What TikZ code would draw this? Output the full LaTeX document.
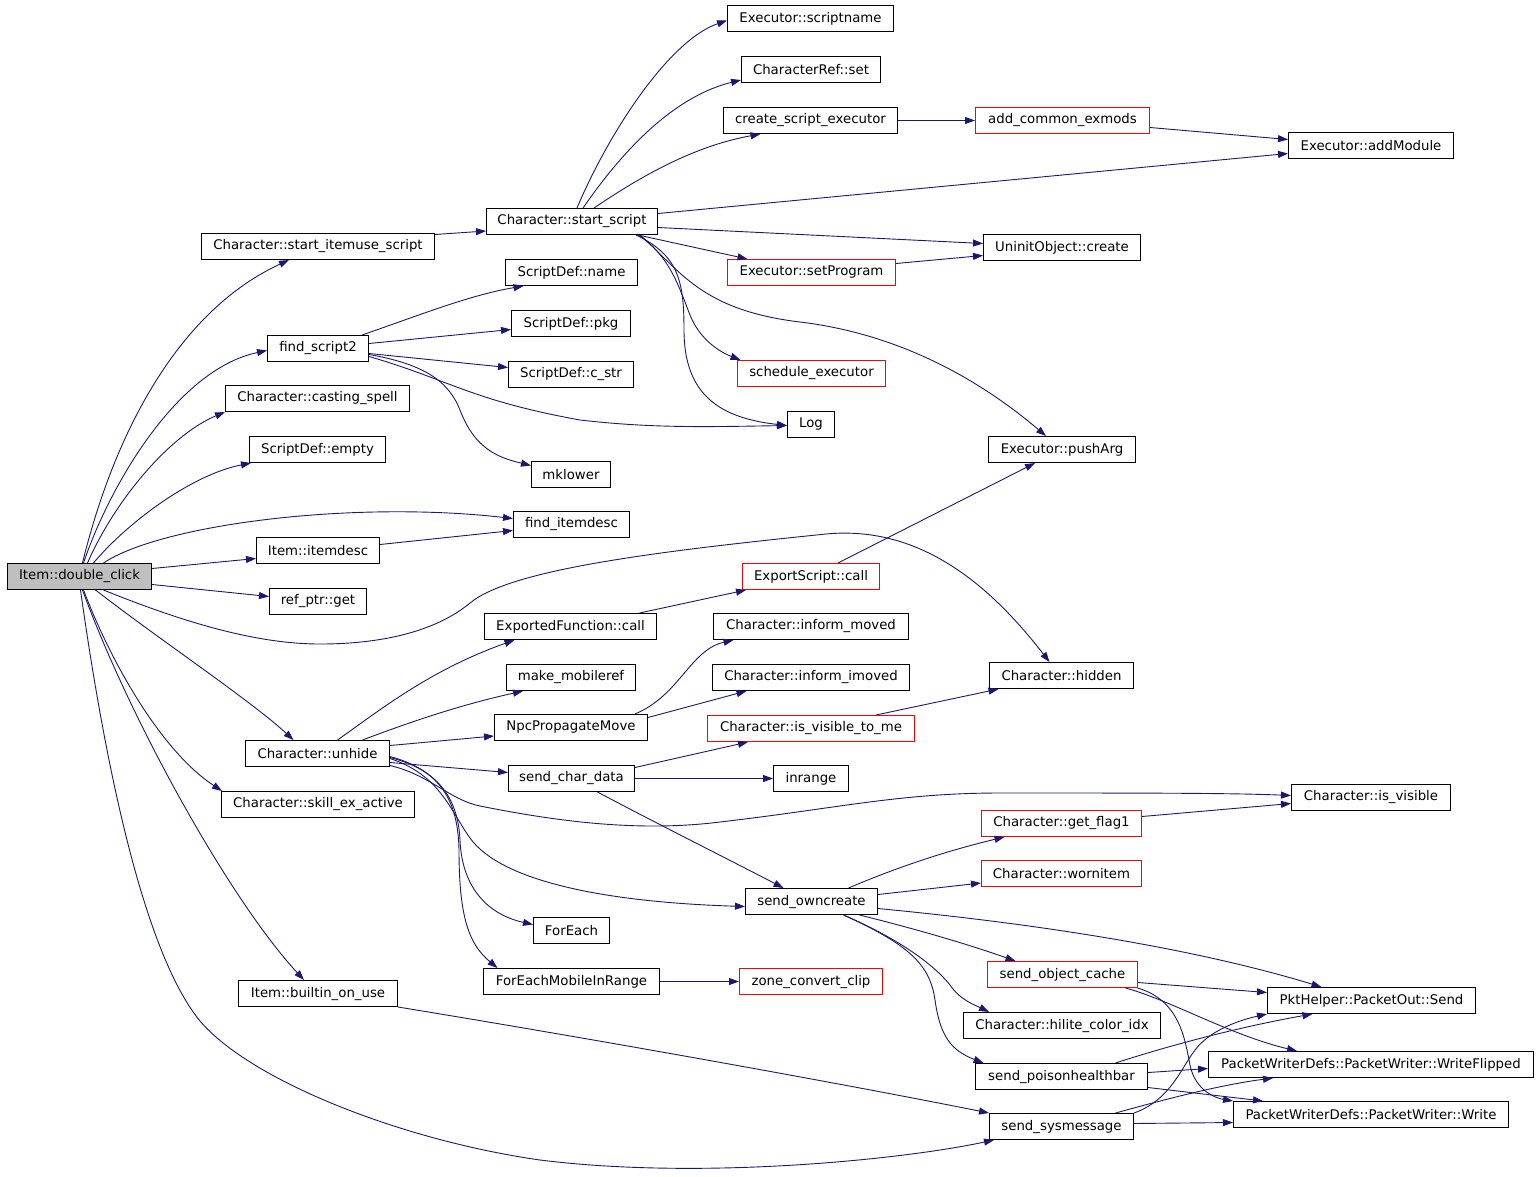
\documentclass[tikz,border=0pt]{standalone}
\usepackage{fontspec}
\setmainfont{DejaVu Sans}
\usetikzlibrary{arrows.meta}
\definecolor{edgec}{HTML}{191970}
\definecolor{redb}{HTML}{FF0000}
\definecolor{dcfill}{HTML}{BFBFBF}
\tikzset{
  fn/.style={draw=black, line width=1pt, rectangle, inner sep=0pt, minimum height=26pt, font=\fontsize{13.3}{16}\selectfont, text=black},
  trunc/.style={fn, draw=redb},
  root/.style={fn, fill=dcfill},
  call/.style={draw=edgec, line width=0.9pt, -{Triangle[length=10pt,width=7pt,fill=edgec]}},
}
\begin{document}
\begin{tikzpicture}[x=1pt,y=-1pt]
\useasboundingbox (0,0) rectangle (1539,1176);
% column 0
\node[root, minimum width=144] (dc) at (79.5,576.5) {Item::double\_click};
% column 1
\node[fn, minimum width=233] (sius) at (318,246.5) {Character::start\_itemuse\_script};
\node[fn, minimum width=101] (fs2) at (318,348.5) {find\_script2};
\node[fn, minimum width=184] (cast) at (317.5,398.5) {Character::casting\_spell};
\node[fn, minimum width=136] (empty) at (317.5,449.5) {ScriptDef::empty};
\node[fn, minimum width=123] (itemdesc) at (318,550.5) {Item::itemdesc};
\node[fn, minimum width=97] (refptr) at (318,601.5) {ref\_ptr::get};
\node[fn, minimum width=144] (unhide) at (317.5,753.5) {Character::unhide};
\node[fn, minimum width=193] (skill) at (318,804.5) {Character::skill\_ex\_active};
\node[fn, minimum width=159] (builtin) at (318,993.5) {Item::builtin\_on\_use};
% column 2
\node[fn, minimum width=171] (ss) at (572,221.5) {Character::start\_script};
\node[fn, minimum width=132] (sdname) at (571.5,272.5) {ScriptDef::name};
\node[fn, minimum width=119] (sdpkg) at (571,323.5) {ScriptDef::pkg};
\node[fn, minimum width=125] (sdcstr) at (571,374.5) {ScriptDef::c\_str};
\node[fn, minimum width=79] (mklower) at (571,474.5) {mklower};
\node[fn, minimum width=116] (fid) at (571.5,524.5) {find\_itemdesc};
\node[fn, minimum width=172] (ef) at (570.5,626.5) {ExportedFunction::call};
\node[fn, minimum width=129] (mm) at (571,677.5) {make\_mobileref};
\node[fn, minimum width=153] (npm) at (571,727.5) {NpcPropagateMove};
\node[fn, minimum width=126] (scd) at (571.5,778.5) {send\_char\_data};
\node[fn, minimum width=76] (foreach) at (571.5,930.5) {ForEach};
\node[fn, minimum width=176] (femir) at (571.5,981.5) {ForEachMobileInRange};
% column 3
\node[fn, minimum width=166] (scname) at (810.5,18.5) {Executor::scriptname};
\node[fn, minimum width=139] (crset) at (811,69.5) {CharacterRef::set};
\node[fn, minimum width=174] (cse) at (810.5,120.5) {create\_script\_executor};
\node[trunc, minimum width=168] (setprog) at (811.5,272.5) {Executor::setProgram};
\node[trunc, minimum width=148] (sched) at (811.5,373.5) {schedule\_executor};
\node[fn, minimum width=47] (log) at (811,424.5) {Log};
\node[trunc, minimum width=137] (es) at (811,576.5) {ExportScript::call};
\node[fn, minimum width=195] (im) at (811,626.5) {Character::inform\_moved};
\node[fn, minimum width=197] (iim) at (811,677.5) {Character::inform\_imoved};
\node[trunc, minimum width=207] (ivtm) at (811,728.5) {Character::is\_visible\_to\_me};
\node[fn, minimum width=75] (inrange) at (811,778.5) {inrange};
\node[fn, minimum width=132] (soc) at (811.5,901.5) {send\_owncreate};
\node[trunc, minimum width=143] (zone) at (811,981.5) {zone\_convert\_clip};
% column 4
\node[trunc, minimum width=174] (ace) at (1062.5,120.5) {add\_common\_exmods};
\node[fn, minimum width=157] (uninit) at (1062,247.5) {UninitObject::create};
\node[fn, minimum width=147] (push) at (1062,449.5) {Executor::pushArg};
\node[fn, minimum width=144] (hidden) at (1061.5,675.5) {Character::hidden};
\node[trunc, minimum width=160] (gf) at (1061.5,823.5) {Character::get\_flag1};
\node[trunc, minimum width=160] (worn) at (1061.5,873.5) {Character::wornitem};
\node[trunc, minimum width=150] (soca) at (1062.5,974.5) {send\_object\_cache};
\node[fn, minimum width=197] (hilite) at (1062,1025.5) {Character::hilite\_color\_idx};
\node[fn, minimum width=172] (poison) at (1061.5,1076.5) {send\_poisonhealthbar};
\node[fn, minimum width=144] (sysm) at (1061.5,1126.5) {send\_sysmessage};
% column 5
\node[fn, minimum width=165] (addmod) at (1371,145.5) {Executor::addModule};
\node[fn, minimum width=159] (isv) at (1371,797.5) {Character::is\_visible};
\node[fn, minimum width=208] (pkt) at (1371.5,1000.5) {PktHelper::PacketOut::Send};
\node[fn, minimum width=325] (wf) at (1371,1064.5) {PacketWriterDefs::PacketWriter::WriteFlipped};
\node[fn, minimum width=275] (write) at (1371,1114.5) {PacketWriterDefs::PacketWriter::Write};

% edges from Item::double_click
\draw[call] ([xshift=3]dc.north) .. controls (115,430) and (180,310) .. ([xshift=-29]sius.south);
\draw[call] ([xshift=4]dc.north) .. controls (108,490) and (175,370) .. ([yshift=-2]fs2.west);
\draw[call] ([xshift=8]dc.north) .. controls (115,500) and (170,435) .. (cast.south west);
\draw[call] ([xshift=14]dc.north) .. controls (125,525) and (190,475) .. ([xshift=2]empty.south west);
\draw[call] ([xshift=24]dc.north) .. controls (160,525) and (350,500) .. ([yshift=6]fid.west);
\draw[call] ([yshift=8]dc.east) -- ([yshift=-8]itemdesc.west);
\draw[call] ([yshift=-8]dc.east) -- ([yshift=5]refptr.west);
\draw[call] ([xshift=24]dc.south) .. controls (190,625) and (260,644) .. (320,644)
  .. controls (390,644) and (440,628) .. (470,603)
  .. controls (510,570) and (650,552) .. (826,534)
  .. controls (920,525) and (990,585) .. ([xshift=-12]hidden.north);
\draw[call] ([xshift=16]dc.south) .. controls (160,640) and (250,700) .. ([xshift=-24]unhide.north);
\draw[call] ([xshift=4]dc.south) .. controls (110,660) and (160,750) .. ([xshift=1]skill.north west);
\draw[call] ([xshift=3]dc.south) .. controls (130,720) and (230,900) .. ([xshift=-14]builtin.north);
\draw[call] ([xshift=1]dc.south) .. controls (110,800) and (150,960) .. (200,1021)
  .. controls (250,1080) and (400,1140) .. (540,1160)
  .. controls (700,1180) and (900,1160) .. ([xshift=5]sysm.south west);

% column 1 outgoing
\draw[call] ([yshift=12]sius.east) -- ([yshift=-9.5]ss.west);
\draw[call] ([xshift=44]fs2.north) .. controls (420,315) and (470,295) .. ([xshift=-48]sdname.south);
\draw[call] ([yshift=5]fs2.east) -- ([yshift=-6]sdpkg.west);
\draw[call] ([yshift=-5]fs2.east) -- ([yshift=7]sdcstr.west);
\draw[call] ([yshift=-8]fs2.east) .. controls (450,380) and (470,400) .. (580,420)
  .. controls (650,428) and (700,427) .. ([yshift=-1]log.west);
\draw[call] ([yshift=-6]fs2.east) .. controls (430,365) and (450,385) .. (460,410)
  .. controls (475,450) and (500,458) .. ([yshift=9]mklower.west);
\draw[call] ([yshift=6]itemdesc.east) -- ([yshift=-6]fid.west);

% Character::start_script outgoing
\draw[call] ([xshift=5]ss.north) .. controls (610,130) and (670,40) .. ([yshift=-2]scname.west);
\draw[call] ([xshift=11]ss.north) .. controls (630,140) and (680,95) .. ([yshift=3]crset.south west);
\draw[call] ([xshift=22]ss.north) .. controls (650,170) and (700,145) .. ([xshift=-50]cse.south);
\draw[call] ([yshift=8]ss.east) -- ([yshift=-8]addmod.west);
\draw[call] ([yshift=-6]ss.east) -- ([yshift=4]uninit.west);
\draw[call] ([xshift=66]ss.south) -- ([xshift=-64]setprog.north);
\draw[call] ([xshift=66]ss.south) .. controls (670,255) and (680,290) .. (690,315)
  .. controls (700,340) and (720,352) .. ([xshift=-71]sched.north);
\draw[call] ([xshift=64]ss.south) .. controls (678,255) and (684,280) .. (684,330)
  .. controls (684,395) and (720,418) .. ([yshift=-1]log.west);
\draw[call] ([xshift=68]ss.south) .. controls (680,270) and (700,310) .. (800,322)
  .. controls (900,334) and (980,380) .. ([xshift=-16]push.north);
\draw[call] (cse.east) -- (ace.west);
\draw[call] ([yshift=-7]ace.east) -- ([yshift=6]addmod.west);
\draw[call] ([yshift=9]setprog.east) -- ([yshift=-8]uninit.west);

% exported function
\draw[call] ([xshift=69]ef.north) -- ([xshift=4]es.south west);
\draw[call] ([xshift=27]es.north) -- ([xshift=-27]push.south);

% Character::unhide outgoing
\draw[call] ([xshift=20]unhide.north) .. controls (380,710) and (430,670) .. ([xshift=-56]ef.south);
\draw[call] ([xshift=45]unhide.north) .. controls (410,722) and (460,705) .. ([xshift=-48]mm.south);
\draw[call] ([yshift=8]unhide.east) -- ([yshift=-8.5]npm.west);
\draw[call] ([yshift=-9]unhide.east) -- ([yshift=6]scd.west);
\draw[call] ([yshift=-12]unhide.east) .. controls (430,775) and (450,800) .. (480,806)
  .. controls (560,822) and (640,832) .. (720,822)
  .. controls (840,808) and (900,793) .. (1000,793)
  .. controls (1150,793) and (1230,793) .. ([yshift=2]isv.west);
\draw[call] ([yshift=-5]unhide.east) .. controls (440,775) and (450,810) .. (470,838)
  .. controls (500,880) and (600,902) .. ([yshift=-5]soc.west);
\draw[call] ([yshift=-4]unhide.east) .. controls (440,770) and (458,800) .. (460,840)
  .. controls (462,890) and (490,915) .. ([yshift=6]foreach.west);
\draw[call] ([yshift=-3]unhide.east) .. controls (440,770) and (458,800) .. (459,850)
  .. controls (459,920) and (470,945) .. ([xshift=-74]femir.north);

% NpcPropagateMove, send_char_data
\draw[call] ([xshift=64]npm.north) .. controls (680,695) and (690,650) .. ([xshift=-77.5]im.south);
\draw[call] ([yshift=10]npm.east) -- ([xshift=-64.5]iim.south);
\draw[call] ([xshift=65]ivtm.north) -- ([xshift=-63]hidden.south);
\draw[call] ([yshift=11]scd.east) -- ([xshift=-63]ivtm.south);
\draw[call] (scd.east) -- (inrange.west);
\draw[call] ([xshift=26]scd.south) .. controls (650,820) and (720,855) .. ([xshift=-28]soc.north);
\draw[call] (femir.east) -- (zone.west);
\draw[call] (builtin.south east) .. controls (600,1040) and (850,1085) .. (sysm.north west);

% send_owncreate outgoing
\draw[call] ([xshift=37]soc.north) .. controls (900,866) and (950,850) .. ([xshift=-57]gf.south);
\draw[call] ([yshift=7]soc.east) -- ([yshift=-9.5]worn.west);
\draw[call] ([yshift=-7]soc.east) .. controls (1050,925) and (1200,950) .. ([xshift=-50]pkt.north);
\draw[call] ([xshift=48]soc.south) .. controls (920,930) and (970,945) .. ([xshift=-47]soca.north);
\draw[call] ([xshift=32]soc.south) .. controls (890,935) and (930,960) .. (950,985)
  .. controls (960,1000) and (975,1005) .. ([xshift=-73]hilite.north);
\draw[call] ([xshift=32]soc.south) .. controls (910,945) and (930,965) .. (935,1000)
  .. controls (940,1035) and (950,1050) .. ([xshift=-78]poison.north);
\draw[call] ([yshift=7]gf.east) -- ([yshift=-6]isv.west);

% packet writers
\draw[call] ([yshift=-8]soca.east) -- ([yshift=8]pkt.west);
\draw[call] ([xshift=63]soca.south) .. controls (1170,1000) and (1230,1035) .. ([xshift=-74]wf.north);
\draw[call] ([xshift=75]soca.south) .. controls (1180,1000) and (1185,1040) .. (1190,1065)
  .. controls (1195,1090) and (1215,1098) .. (write.north west);
\draw[call] ([xshift=54]poison.north) .. controls (1180,1042) and (1250,1025) .. ([xshift=-59]pkt.south);
\draw[call] ([yshift=4]poison.east) -- ([yshift=-4]wf.west);
\draw[call] ([yshift=-11]poison.east) -- ([xshift=-108]write.north);
\draw[call] (sysm.north east) .. controls (1170,1100) and (1180,1070) .. (1195,1050)
  .. controls (1210,1030) and (1240,1020) .. (pkt.south west);
\draw[call] ([xshift=54]sysm.north) .. controls (1170,1098) and (1220,1085) .. ([xshift=-98]wf.south);
\draw[call] ([yshift=3]sysm.east) -- ([yshift=-8]write.west);
\end{tikzpicture}
\end{document}
